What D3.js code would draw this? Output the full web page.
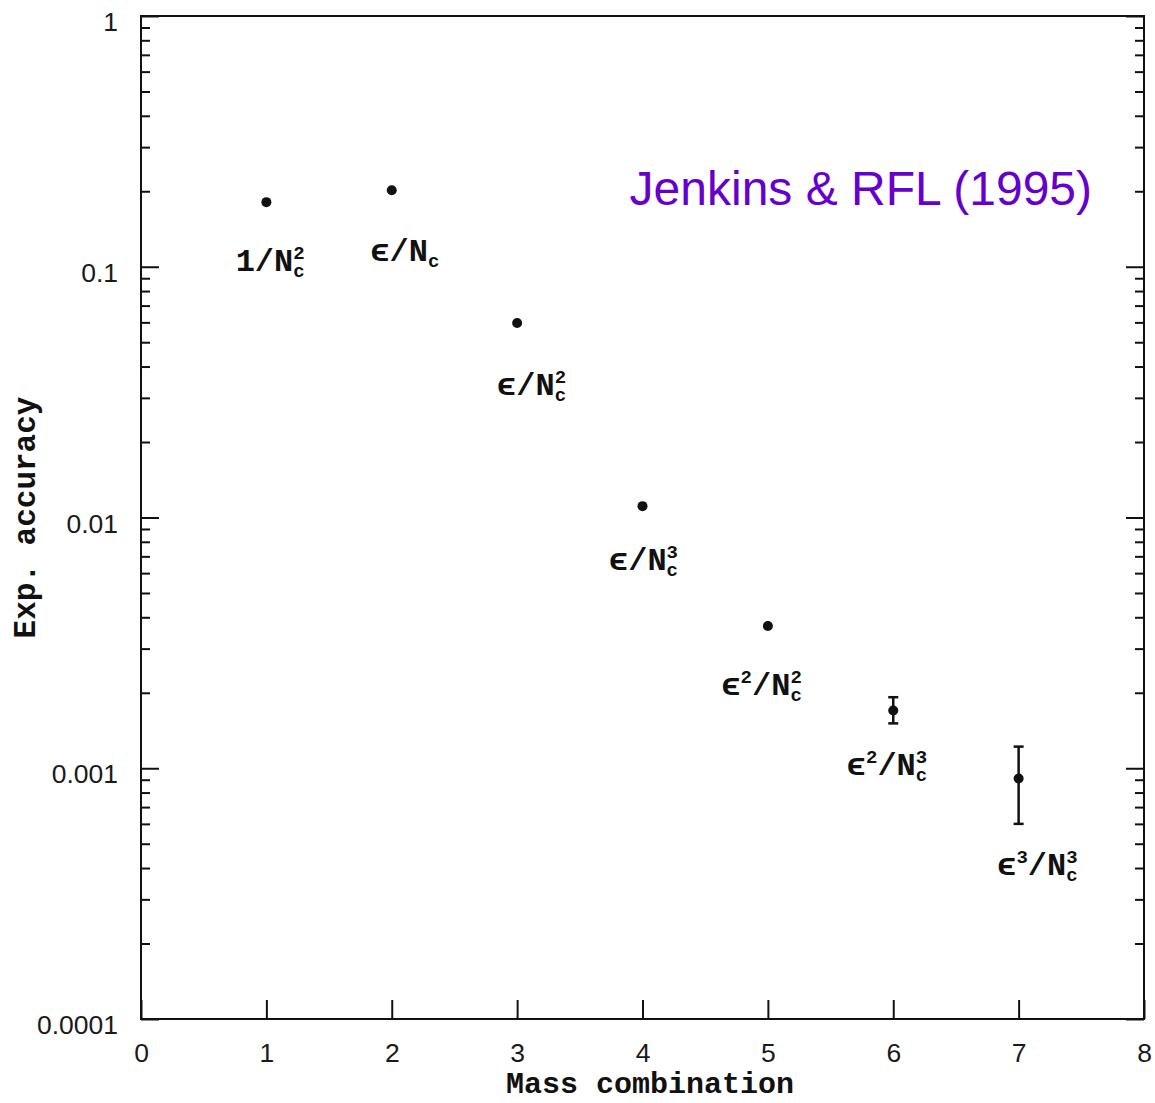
<!DOCTYPE html>
<html>
<head>
<meta charset="utf-8">
<script src="https://cdn.jsdelivr.net/npm/d3@7"></script>
<style>
  body { margin: 0; background: #fff; }
  .tick text { font-family: "Liberation Sans", Arial, sans-serif; font-size: 26.5px; fill: #1a1a1a; }
  .tick line { stroke: #111; stroke-width: 2; }
  .axis-title { font-family: "Liberation Mono", "DejaVu Sans Mono", monospace; font-weight: bold; fill: #111; }
  .term { font-family: "Liberation Mono", "DejaVu Sans Mono", monospace; font-weight: bold; font-size: 32px; fill: #111; }
</style>
</head>
<body>
<script>
// mass combination index and measured accuracy
var combos = [1, 2, 3, 4, 5, 6, 7];
var accuracy = [0.181, 0.202, 0.0597, 0.0111, 0.00369, 0.0017, 0.00091];
var errLow = [null, null, null, null, null, 0.00151, 0.0006];
var errHigh = [null, null, null, null, null, 0.00192, 0.00122];

// expansion order labels ("_" subscript, "^" superscript) and where they sit (data units)
var terms = ["1/N_c^2", "ϵ/N_c", "ϵ/N_c^2", "ϵ/N_c^3", "ϵ^2/N_c^2", "ϵ^2/N_c^3", "ϵ^3/N_c^3"];
var termX = [1.03, 2.105, 3.115, 4.008, 4.95, 5.95, 7.15];
var termY = [0.0963, 0.1054, 0.0308, 0.00618, 0.00196, 0.00094, 0.000375];

var xTicks = [0, 1, 2, 3, 4, 5, 6, 7, 8];
var yMajor = [0.0001, 0.001, 0.01, 0.1, 1];
var yMajorLabels = ["0.0001", "0.001", "0.01", "0.1", "1"];
var source = "Jenkins & RFL (1995)";

var width = 1155, height = 1103,
    margins = {top: 16, left: 141, right: 11, bottom: 84};
var w = width - margins.left - margins.right,
    h = height - margins.top - margins.bottom;

var svg = d3.select("body").append("svg")
    .attr("width", width)
    .attr("height", height);

var g = svg.append("g")
    .attr("transform", "translate(" + margins.left + "," + margins.top + ")");

var x = d3.scaleLinear().domain([0, 8]).range([0, w]);
var y = d3.scaleLog().domain([0.0001, 1]).range([h, 0]);

// minor ticks 2..9 of each decade
var yMinor = [];
yMajor.slice(0, -1).forEach(function (d) {
    for (var k = 2; k <= 9; k++) yMinor.push(d * k);
});

// y axis, left: major with labels, minor without
g.append("g").attr("class", "y axis")
    .call(d3.axisLeft(y).tickValues(yMajor).tickSize(-18).tickPadding(23)
        .tickFormat(function (d, i) { return yMajorLabels[i]; }))
    .call(function (s) { s.select(".domain").remove(); })
    .selectAll("text").attr("dy", "0.55em");

g.append("g").attr("class", "y axis minor")
    .call(d3.axisLeft(y).tickValues(yMinor).tickSize(-9).tickFormat(""))
    .call(function (s) { s.select(".domain").remove(); });

// y axis, right mirror
g.append("g").attr("transform", "translate(" + w + ",0)")
    .call(d3.axisRight(y).tickValues(yMajor).tickSize(-18).tickFormat(""))
    .call(function (s) { s.select(".domain").remove(); });

g.append("g").attr("transform", "translate(" + w + ",0)")
    .call(d3.axisRight(y).tickValues(yMinor).tickSize(-9).tickFormat(""))
    .call(function (s) { s.select(".domain").remove(); });

// x axis
g.append("g").attr("class", "x axis")
    .attr("transform", "translate(0," + h + ")")
    .call(d3.axisBottom(x).tickValues(xTicks).tickSize(-19).tickPadding(24)
        .tickFormat(d3.format("d")))
    .call(function (s) { s.select(".domain").remove(); });

// frame
g.append("rect")
    .attr("width", w)
    .attr("height", h)
    .attr("fill", "none")
    .attr("stroke", "#111")
    .attr("stroke-width", 2);

// axis titles
svg.append("text").attr("class", "axis-title")
    .attr("x", 650).attr("y", 1093)
    .attr("text-anchor", "middle")
    .style("font-size", "30px")
    .text("Mass combination");

svg.append("text").attr("class", "axis-title")
    .attr("transform", "translate(35," + (margins.top + h / 2) + ") rotate(-90)")
    .attr("text-anchor", "middle")
    .style("font-size", "31px")
    .text("Exp. accuracy");

// error bars
var errIdx = combos.map(function (d, i) { return i; })
    .filter(function (i) { return errLow[i] !== null; });

var eb = g.append("g").attr("class", "errors")
    .selectAll("g").data(errIdx).enter().append("g")
    .attr("stroke", "#111").attr("stroke-width", 2.5);

eb.append("line")
    .attr("x1", function (i) { return x(combos[i]); })
    .attr("x2", function (i) { return x(combos[i]); })
    .attr("y1", function (i) { return y(errLow[i]); })
    .attr("y2", function (i) { return y(errHigh[i]); });

[errLow, errHigh].forEach(function (arr) {
    eb.append("line")
        .attr("x1", function (i) { return x(combos[i]) - 5; })
        .attr("x2", function (i) { return x(combos[i]) + 5; })
        .attr("y1", function (i) { return y(arr[i]); })
        .attr("y2", function (i) { return y(arr[i]); });
});

// points
g.append("g").attr("class", "points")
    .selectAll("circle").data(combos).enter().append("circle")
    .attr("cx", function (d) { return x(d); })
    .attr("cy", function (d, i) { return y(accuracy[i]); })
    .attr("r", 5)
    .attr("fill", "#111");

// term labels with stacked sub/superscripts
var small = 19, charW = 0.6;
function drawTerm(text, str) {
    var re = /([^_^]+)|\^(.)|_(.)/g, m, shift = 0, prevScript = 0;
    while ((m = re.exec(str)) !== null) {
        var t = text.append("tspan");
        if (m[1]) {
            t.attr("dy", -shift).text(m[1]);
            shift = 0; prevScript = 0;
        } else {
            var target = m[2] ? -12 : 6;
            t.style("font-size", small + "px")
                .attr("dy", target - shift)
                .text(m[2] || m[3]);
            if (prevScript) t.attr("dx", -prevScript);
            shift = target;
            prevScript = small * charW;
        }
    }
}

g.append("g").attr("class", "terms")
    .selectAll("text").data(terms).enter().append("text")
    .attr("class", "term")
    .attr("x", function (d, i) { return x(termX[i]); })
    .attr("y", function (d, i) { return y(termY[i]); })
    .attr("text-anchor", "middle")
    .each(function (d) { drawTerm(d3.select(this), d); });

// source note
g.append("text")
    .attr("x", w - 52).attr("y", 189)
    .attr("text-anchor", "end")
    .style("font-family", "'Liberation Sans', Arial, sans-serif")
    .style("font-size", "48px")
    .style("fill", "#6600cc")
    .text(source);
</script>
</body>
</html>
